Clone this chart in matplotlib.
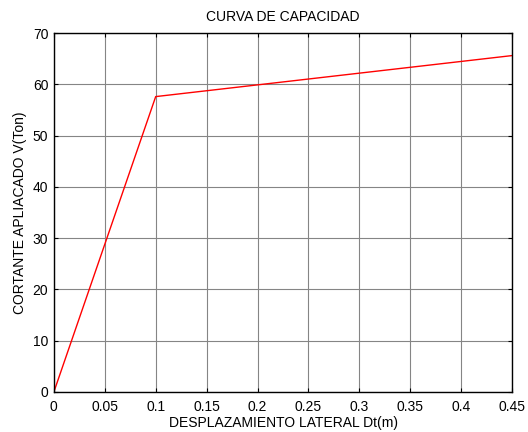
import matplotlib
matplotlib.use("Agg")
import matplotlib.pyplot as plt

desplazamiento = [0.0, 0.1, 0.45]
cortante = [0.0, 57.6, 65.6]
xticks = [0, 0.05, 0.1, 0.15, 0.2, 0.25, 0.3, 0.35, 0.4, 0.45]
xticklabels = ["0", "0.05", "0.1", "0.15", "0.2", "0.25", "0.3", "0.35", "0.4", "0.45"]
yticks = [0, 10, 20, 30, 40, 50, 60, 70]

plt.rcParams['font.family'] = ['Liberation Sans', 'DejaVu Sans']
fig = plt.figure(figsize=(5.28, 4.32), dpi=100)
ax = fig.add_axes([0.102, 0.0926, 0.868, 0.831])
ax.plot(desplazamiento, cortante, color='red', linewidth=1.0)
ax.set_xlim(0, 0.45)
ax.set_ylim(0, 70)
ax.set_xticks(xticks)
ax.set_xticklabels(xticklabels)
ax.set_yticks(yticks)
ax.grid(True, color='#858585', linewidth=0.8, linestyle='-')
ax.tick_params(direction='in', top=True, right=True, labelsize=10, length=3, width=0.8)
ax.tick_params(axis='x', pad=6)
ax.tick_params(axis='y', pad=4)
for s in ax.spines.values():
    s.set_linewidth(1.0)
    s.set_color('black')
ax.set_title("CURVA DE CAPACIDAD", fontsize=10, pad=9)
ax.set_xlabel("DESPLAZAMIENTO LATERAL Dt(m)", fontsize=10, labelpad=1)
ax.set_ylabel("CORTANTE APLIACADO V(Ton)", fontsize=10, labelpad=4)
fig.savefig("out.png", dpi=100)
